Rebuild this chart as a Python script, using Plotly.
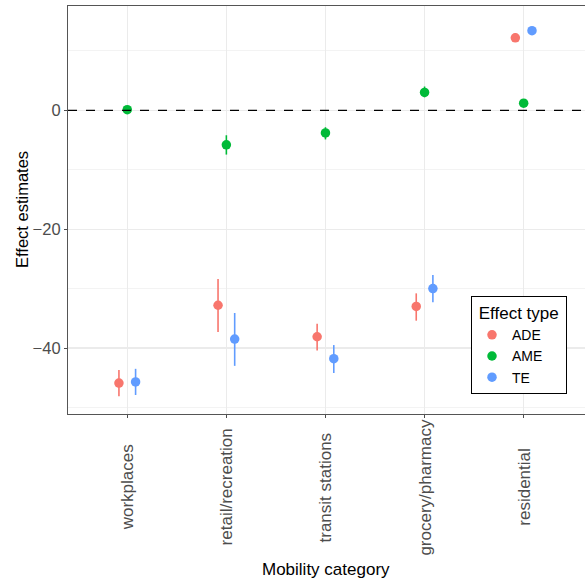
import plotly.graph_objects as go

categories = ["workplaces", "retail/recreation", "transit stations", "grocery/pharmacy", "residential"]
effect_types = ["ADE", "AME", "TE"]

ade_est = [-45.9, -32.8, -38.1, -33.0, 12.2]
ade_low = [-48.1, -37.3, -40.4, -35.4, 11.5]
ade_high = [-43.7, -28.4, -35.9, -30.8, 13.0]

ame_est = [0.1, -5.8, -3.8, 3.0, 1.2]
ame_low = [-0.3, -7.45, -4.9, 2.2, 0.8]
ame_high = [0.5, -4.2, -2.85, 4.0, 1.6]

te_est = [-45.7, -38.5, -41.8, -30.0, 13.4]
te_low = [-47.9, -43.0, -44.2, -32.3, 12.8]
te_high = [-43.5, -34.1, -39.5, -27.7, 14.0]

y_ticks = [0, -20, -40]

series = {
    "ADE": (ade_est, ade_low, ade_high),
    "AME": (ame_est, ame_low, ame_high),
    "TE": (te_est, te_low, te_high),
}
colors = {"ADE": "#F8766D", "AME": "#00BA38", "TE": "#619CFF"}
dodge = {"ADE": -0.084, "AME": 0.0, "TE": 0.084}

FONT = "Liberation Sans, Arial, sans-serif"
W = 592  # plot extends past the 585 px window so its right edge is not visible
PLOT_W = W - 68

fig = go.Figure()
for name in effect_types:
    est, lo, hi = series[name]
    xs = [i + dodge[name] for i in range(len(categories))]
    fig.add_trace(go.Scatter(
        x=xs, y=est, mode="markers", name=name,
        marker=dict(color=colors[name], size=9.5),
        error_y=dict(type="data", symmetric=False,
                     array=[h - e for h, e in zip(hi, est)],
                     arrayminus=[e - l for e, l in zip(est, lo)],
                     color=colors[name], thickness=1.6, width=0),
        hoverinfo="skip",
    ))

fig.add_shape(type="line", xref="paper", yref="y", x0=0, x1=1, y0=0, y1=0,
              line=dict(color="black", width=1.2, dash="dash"), layer="above")

for i, c in enumerate(categories):
    fig.add_annotation(x=i, xref="x", y=-0.179, yref="paper", text=c,
                       textangle=-90, showarrow=False, xanchor="center", yanchor="middle",
                       font=dict(family=FONT, size=17, color="#4d4d4d"))

fig.add_annotation(x=(326 - 68) / PLOT_W, xref="paper", y=-0.38, yref="paper", text="Mobility category",
                   showarrow=False, xanchor="center", yanchor="middle",
                   font=dict(family=FONT, size=17, color="black"))
fig.add_annotation(x=-46 / PLOT_W, xref="paper", y=0.5, yref="paper", text="Effect estimates",
                   textangle=-90, showarrow=False, xanchor="center", yanchor="middle",
                   font=dict(family=FONT, size=16.5, color="black"))

x_right = -0.598 + PLOT_W / 99.1

fig.update_layout(
    width=W, height=579,
    margin=dict(l=68, r=0, t=6, b=165),
    plot_bgcolor="white", paper_bgcolor="white",
    font=dict(family=FONT),
    showlegend=True,
    legend=dict(
        x=(471 - 68) / PLOT_W, y=0.289, xanchor="left", yanchor="top",
        bordercolor="black", borderwidth=1, bgcolor="white",
        title=dict(text="&nbsp;Effect type&nbsp;", font=dict(family=FONT, size=17, color="black")),
        font=dict(family=FONT, size=14, color="black"),
        tracegroupgap=0,
    ),
    xaxis=dict(
        range=[-0.598, x_right], tickvals=list(range(len(categories))),
        showticklabels=False, ticks="outside", ticklen=3, tickcolor="#4d4d4d",
        showgrid=True, gridcolor="#ebebeb", gridwidth=1.1,
        showline=True, linecolor="#555555", linewidth=1.1, mirror=True,
        zeroline=False,
    ),
    yaxis=dict(
        range=[-51.1, 17.55], tickvals=y_ticks,
        ticks="outside", ticklen=3, tickcolor="#4d4d4d",
        tickfont=dict(family=FONT, size=16.5, color="#4d4d4d"),
        showgrid=True, gridcolor="#ebebeb", gridwidth=1.1,
        minor=dict(dtick=10, tick0=0, showgrid=True, gridcolor="#ebebeb", gridwidth=0.6, ticks=""),
        showline=True, linecolor="#555555", linewidth=1.1,
        zeroline=False,
    ),
)

fig.write_html(
    "out.html",
    config={"displayModeBar": False, "staticPlot": True},
    post_script="document.body.style.margin='0';document.body.style.padding='0';"
                "document.body.style.overflow='hidden';document.documentElement.style.overflow='hidden';",
)
